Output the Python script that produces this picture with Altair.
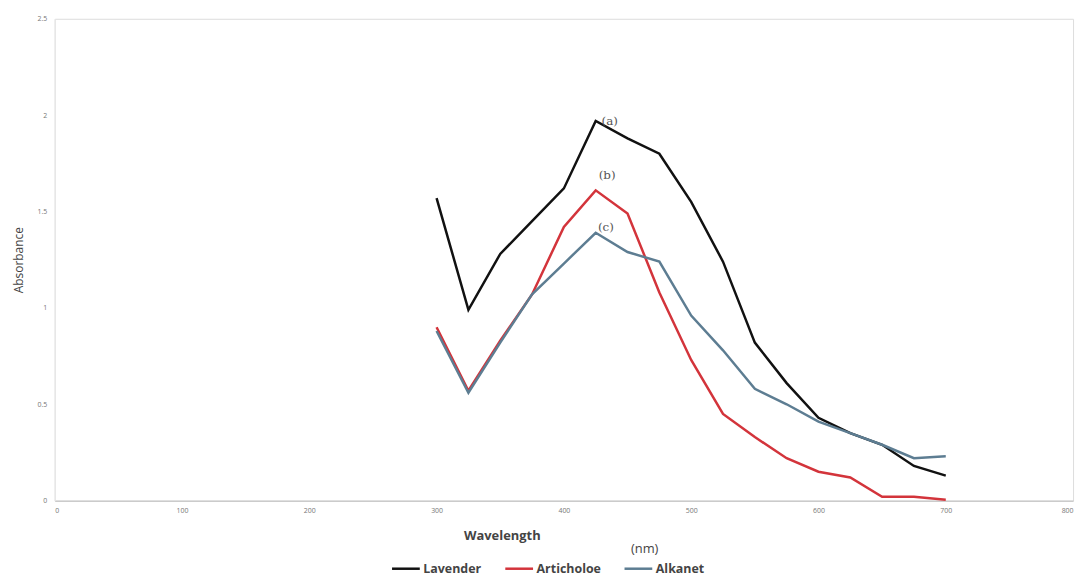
import altair as alt
import pandas as pd

wavelength = [300, 325, 350, 375, 400, 425, 450, 475, 500, 525, 550, 575, 600, 625, 650, 675, 700]
lavender = [1.57, 0.99, 1.28, 1.45, 1.62, 1.97, 1.88, 1.80, 1.55, 1.24, 0.82, 0.61, 0.43, 0.35, 0.29, 0.18, 0.13]
articholoe = [0.90, 0.57, 0.83, 1.07, 1.42, 1.61, 1.49, 1.08, 0.73, 0.45, 0.33, 0.22, 0.15, 0.12, 0.02, 0.02, 0.005]
alkanet = [0.88, 0.56, 0.82, 1.07, 1.23, 1.39, 1.29, 1.24, 0.96, 0.78, 0.58, 0.50, 0.41, 0.35, 0.29, 0.22, 0.23]

series_names = ["Lavender", "Articholoe", "Alkanet"]
series_colors = ["#111111", "#d3343b", "#5d7d92"]

ann_labels = ["(a)", "(b)", "(c)"]
ann_x = [436, 434, 433]
ann_y = [1.97, 1.69, 1.42]

rows = []
for name, vals in zip(series_names, [lavender, articholoe, alkanet]):
    for w, v in zip(wavelength, vals):
        rows.append({"Wavelength": w, "Absorbance": v, "Sample": name})
df = pd.DataFrame(rows)
ann = pd.DataFrame({"label": ann_labels, "x": ann_x, "y": ann_y})

xscale = alt.Scale(domain=[0, 800], nice=False)
yscale = alt.Scale(domain=[0, 2.5], nice=False)

lines = alt.Chart(df).mark_line(strokeWidth=2.5).encode(
    x=alt.X("Wavelength:Q", scale=xscale,
            axis=alt.Axis(values=[0, 100, 200, 300, 400, 500, 600, 700, 800],
                          title="Wavelength", titleX=450, titlePadding=16,
                          titleFontSize=13, titleFontWeight="bold", titleColor="#444",
                          labelFontSize=7, labelColor="#777", labelPadding=6,
                          ticks=False, domainColor="#bbbbbb", grid=False)),
    y=alt.Y("Absorbance:Q", scale=yscale,
            axis=alt.Axis(values=[0, 0.5, 1, 1.5, 2, 2.5], format="~g", title="Absorbance",
                          titleFontSize=12, titleFontWeight="normal", titleColor="#444",
                          titlePadding=12,
                          labelFontSize=7, labelColor="#777", labelPadding=8,
                          ticks=False, domainColor="#e6e6e6", grid=False)),
    color=alt.Color("Sample:N",
                    scale=alt.Scale(domain=series_names, range=series_colors),
                    legend=alt.Legend(title=None, orient="none", direction="horizontal",
                                      legendX=338, legendY=538,
                                      symbolType="stroke", symbolStrokeWidth=2.5,
                                      symbolSize=780, labelFontSize=12.5,
                                      labelFontWeight="bold", labelColor="#444",
                                      columnPadding=18, labelOffset=2)),
    order="Wavelength:Q",
)

ann_text = alt.Chart(ann).mark_text(fontSize=12, color="#555", font="DejaVu Serif").encode(
    x=alt.X("x:Q", scale=xscale),
    y=alt.Y("y:Q", scale=yscale),
    text="label:N",
)

nm = alt.Chart(pd.DataFrame({"t": ["(nm)"]})).mark_text(
    fontSize=13, color="#444", align="left"
).encode(x=alt.value(580), y=alt.value(534), text="t:N")

chart = alt.layer(lines, ann_text, nm).properties(
    width=1025, height=485,
    autosize=alt.AutoSizeParams(type="none"),
    padding={"left": 47, "top": 9, "right": 10, "bottom": 78},
).configure_view(stroke=None).configure(font="Open Sans")

chart.save("out.html", embed_options={"renderer": "svg", "actions": False})
